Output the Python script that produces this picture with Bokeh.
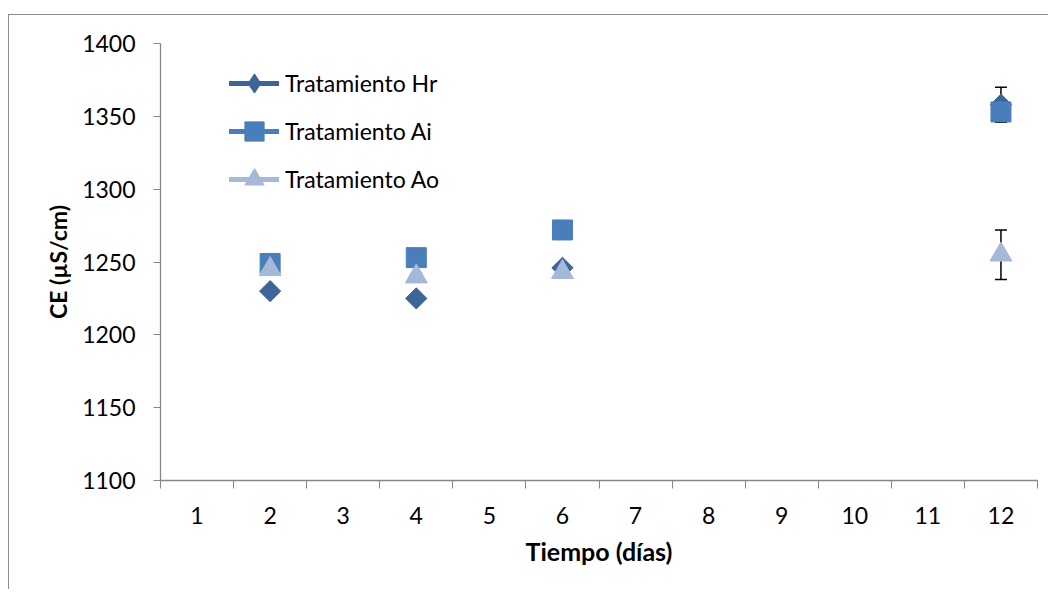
from bokeh.plotting import figure
from bokeh.models import (ColumnDataSource, Range1d, FixedTicker, Whisker, TeeHead,
                          Legend, LegendItem)
from bokeh.embed import file_html
from bokeh.resources import INLINE
import math

# ---- data ----
categories = ["1", "2", "3", "4", "5", "6", "7", "8", "9", "10", "11", "12"]
days = ["2", "4", "6", "12"]

hr_values = [1230, 1225, 1246, 1358]
hr_errors = [2, 2, 2, 12]
ai_values = [1249, 1253, 1272, 1353]
ai_errors = [4, 4, 4, 5]
ao_values = [1245, 1240, 1243, 1255]
ao_errors = [2, 2, 2, 17]

y_ticks = [1100, 1150, 1200, 1250, 1300, 1350, 1400]

series_names = ["Tratamiento Hr", "Tratamiento Ai", "Tratamiento Ao"]
colors = ["#3D6598", "#4A7EBB", "#A6B8D8"]

FONT = "Lato"

xpos = [categories.index(d) + 1 for d in days]

p = figure(width=1040, height=575, output_backend="svg", toolbar_location=None,
           x_range=Range1d(0.5, len(categories) + 0.5),
           y_range=Range1d(y_ticks[0], y_ticks[-1]),
           min_border_left=151, min_border_top=28, min_border_right=12,
           min_border_bottom=110)
p.styles = {"border-left": "1px solid #8c8c8c", "border-top": "1px solid #8c8c8c",
            "margin-top": "14px", "margin-left": "8px"}
p.outline_line_color = None
p.xgrid.visible = False
p.ygrid.visible = False
p.background_fill_color = "white"
p.border_fill_color = "white"

# axes
xa = p.xaxis[0]
xa.ticker = FixedTicker(ticks=list(range(1, len(categories) + 1)),
                        minor_ticks=[i + 0.5 for i in range(len(categories) + 1)])
xa.major_label_overrides = {i + 1: c for i, c in enumerate(categories)}
xa.major_tick_out = 0
xa.major_tick_in = 0
xa.minor_tick_out = 8
xa.minor_tick_in = 0
xa.minor_tick_line_color = "#868686"
xa.axis_line_color = "#868686"
xa.axis_line_width = 1.3
xa.major_label_standoff = 18
xa.major_label_text_font = FONT
xa.major_label_text_font_size = "23px"
xa.major_label_text_color = "black"
xa.axis_label = "Tiempo (días)"
xa.axis_label_text_font = FONT
xa.axis_label_text_font_size = "25px"
xa.axis_label_text_font_style = "bold"
xa.axis_label_text_color = "black"
xa.axis_label_standoff = 9

ya = p.yaxis[0]
ya.ticker = FixedTicker(ticks=y_ticks)
ya.major_tick_out = 7
ya.major_tick_in = 0
ya.minor_tick_out = 0
ya.minor_tick_in = 0
ya.major_tick_line_color = "#868686"
ya.axis_line_color = "#868686"
ya.axis_line_width = 1.3
ya.major_label_standoff = 18
ya.major_label_text_font = FONT
ya.major_label_text_font_size = "23px"
ya.major_label_text_color = "black"
ya.axis_label = "CE (µS/cm)"
ya.axis_label_text_font = FONT
ya.axis_label_text_font_size = "23px"
ya.axis_label_text_font_style = "bold"
ya.axis_label_text_color = "black"
ya.axis_label_standoff = 7

# error bars + markers
values = [hr_values, ai_values, ao_values]
errors = [hr_errors, ai_errors, ao_errors]
markers = ["square", "square", "triangle"]
angles = [math.pi / 4, 0, 0]
sizes = [15, 20, 22]

nan = float("nan")
legend_items = []
for i in range(3):
    src = ColumnDataSource(dict(
        x=xpos, y=values[i],
        upper=[v + e for v, e in zip(values[i], errors[i])],
        lower=[v - e for v, e in zip(values[i], errors[i])]))
    w = Whisker(base="x", upper="upper", lower="lower", source=src, level="underlay",
                line_color="black", line_width=1.5,
                upper_head=TeeHead(size=12, line_color="black", line_width=1.5),
                lower_head=TeeHead(size=12, line_color="black", line_width=1.5))
    p.add_layout(w)
    sc = p.scatter("x", "y", source=src, marker=markers[i], size=sizes[i],
                   angle=angles[i], fill_color=colors[i], line_color=colors[i])
    # legend-only glyphs (series line with marker); NaN data keeps them off the plot
    leg_src = ColumnDataSource(dict(x=[nan], y=[nan]))
    ln = p.line("x", "y", source=leg_src, line_color=colors[i],
                line_width=5, line_cap="round")
    if i == 0:
        lm = p.scatter("x", "y", source=leg_src, marker="diamond",
                       fill_color=colors[i], line_color=colors[i])
        legend_items.append(LegendItem(label=series_names[i], renderers=[ln, lm]))
    else:
        legend_items.append(LegendItem(label=series_names[i], renderers=[ln, sc]))

legend = Legend(items=legend_items, location=(69, 277), orientation="vertical",
                glyph_width=50, glyph_height=48, spacing=0, padding=0, margin=0,
                label_standoff=6, label_text_font=FONT, label_text_font_size="23px",
                label_text_color="black", border_line_color=None,
                background_fill_alpha=0)
p.add_layout(legend, "center")

open("out.html", "w").write(file_html(p, INLINE))
